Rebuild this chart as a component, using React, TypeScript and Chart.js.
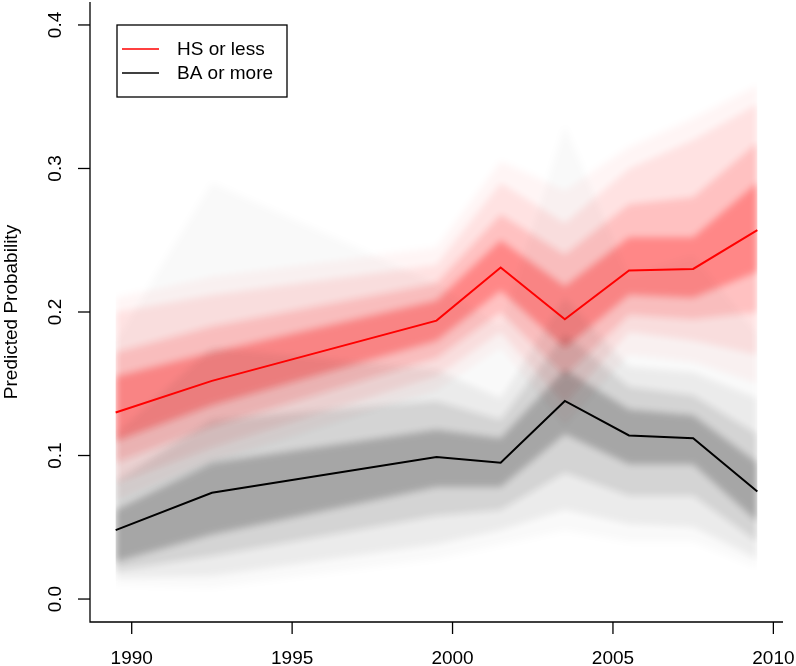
import React, { useEffect, useRef } from "react";
import { Chart, registerables } from "chart.js";

Chart.register(...registerables);

// Survey years (plotted positions)
const years = [1989.5, 1992.5, 1999.5, 2001.5, 2003.5, 2005.5, 2007.5, 2009.5];

// Point estimates
const hsMean = [0.130, 0.152, 0.194, 0.231, 0.195, 0.229, 0.230, 0.257];
const baMean = [0.048, 0.074, 0.099, 0.095, 0.138, 0.114, 0.112, 0.075];

// Simulation cloud bands – HS or less (red)
const hsCoreLo = [0.110, 0.135, 0.180, 0.215, 0.175, 0.212, 0.210, 0.228];
const hsCoreHi = [0.155, 0.172, 0.208, 0.250, 0.218, 0.252, 0.252, 0.290];
const hsMidLo = [0.095, 0.120, 0.168, 0.200, 0.155, 0.198, 0.195, 0.200];
const hsMidHi = [0.172, 0.190, 0.220, 0.268, 0.240, 0.275, 0.280, 0.318];
const hsOutLo = [0.080, 0.105, 0.155, 0.186, 0.135, 0.186, 0.180, 0.170];
const hsOutHi = [0.200, 0.212, 0.233, 0.290, 0.262, 0.300, 0.320, 0.345];
const hsExtLo = [0.068, 0.095, 0.145, 0.175, 0.120, 0.170, 0.165, 0.150];
const hsExtHi = [0.210, 0.225, 0.245, 0.305, 0.285, 0.315, 0.335, 0.358];

// Simulation cloud bands – BA or more (black)
const baCoreLo = [0.026, 0.045, 0.078, 0.078, 0.115, 0.094, 0.094, 0.054];
const baCoreHi = [0.062, 0.095, 0.118, 0.112, 0.160, 0.132, 0.128, 0.095];
const baMidLo = [0.020, 0.030, 0.058, 0.062, 0.088, 0.072, 0.072, 0.040];
const baMidHi = [0.082, 0.125, 0.138, 0.125, 0.185, 0.148, 0.142, 0.115];
const baOutLo = [0.015, 0.016, 0.038, 0.048, 0.062, 0.052, 0.050, 0.028];
const baOutHi = [0.115, 0.175, 0.160, 0.140, 0.210, 0.162, 0.158, 0.140];
const baExtLo = [0.010, 0.008, 0.028, 0.038, 0.048, 0.040, 0.040, 0.022];
const baExtHi = [0.180, 0.290, 0.220, 0.190, 0.330, 0.225, 0.240, 0.185];

// Axis ticks
const xTicks = [1990, 1995, 2000, 2005, 2010];
const yTicks = [0.0, 0.1, 0.2, 0.3, 0.4];
const yTickLabels = ["0.0", "0.1", "0.2", "0.3", "0.4"];

const seriesNames = ["HS or less", "BA or more"];
const yTitle = "Predicted Probability";

const FONT = "19px 'Liberation Sans', Arial, Helvetica, sans-serif";

const pts = (arr: number[]) => years.map((x, i) => ({ x, y: arr[i] }));

function band(lo: number[], hi: number[], color: string) {
  return [
    { data: pts(lo), borderWidth: 0, pointRadius: 0, fill: false, borderColor: "rgba(0,0,0,0)" },
    { data: pts(hi), borderWidth: 0, pointRadius: 0, fill: "-1", backgroundColor: color, borderColor: "rgba(0,0,0,0)" },
  ];
}

// soften the simulation cloud, keep the estimate lines crisp
const softPlugin = {
  id: "soft",
  beforeDatasetsDraw(chart: any) {
    chart.ctx.filter = "blur(3.5px)";
  },
  beforeDatasetDraw(chart: any, args: any) {
    if (args.index <= 1) chart.ctx.filter = "none";
  },
  afterDatasetsDraw(chart: any) {
    chart.ctx.filter = "none";
  },
};

const axesPlugin = {
  id: "rAxes",
  afterDraw(chart: any) {
    const { ctx, chartArea: a, scales } = chart;
    const x = scales.x;
    const y = scales.y;
    ctx.save();
    ctx.filter = "none";
    ctx.strokeStyle = "#000";
    ctx.fillStyle = "#000";
    ctx.lineWidth = 1.3;
    ctx.beginPath();
    ctx.moveTo(a.left, a.top);
    ctx.lineTo(a.left, a.bottom);
    ctx.lineTo(a.right, a.bottom);
    ctx.stroke();

    ctx.font = FONT;
    ctx.textAlign = "center";
    ctx.textBaseline = "middle";
    xTicks.forEach((t) => {
      const px = x.getPixelForValue(t);
      ctx.beginPath();
      ctx.moveTo(px, a.bottom);
      ctx.lineTo(px, a.bottom + 12);
      ctx.stroke();
      ctx.fillText(String(t), px, a.bottom + 37);
    });
    yTicks.forEach((t, i) => {
      const py = y.getPixelForValue(t);
      ctx.beginPath();
      ctx.moveTo(a.left, py);
      ctx.lineTo(a.left - 12, py);
      ctx.stroke();
      ctx.save();
      ctx.translate(a.left - 34, py);
      ctx.rotate(-Math.PI / 2);
      ctx.fillText(yTickLabels[i], 0, 0);
      ctx.restore();
    });
    // y title
    ctx.save();
    ctx.translate(12, (a.top + a.bottom) / 2);
    ctx.rotate(-Math.PI / 2);
    ctx.fillText(yTitle, 0, 0);
    ctx.restore();

    // legend
    const lx = a.left + 27;
    const ly = a.top + 23;
    ctx.fillStyle = "#fff";
    ctx.fillRect(lx, ly, 170, 72);
    ctx.fillStyle = "#000";
    ctx.lineWidth = 1.3;
    ctx.strokeRect(lx, ly, 170, 72);
    const cols = ["#ff0000", "#000000"];
    ctx.textAlign = "left";
    seriesNames.forEach((name, i) => {
      const yy = ly + 24 + i * 24;
      ctx.strokeStyle = cols[i];
      ctx.lineWidth = 1.5;
      ctx.beginPath();
      ctx.moveTo(lx + 5, yy);
      ctx.lineTo(lx + 42, yy);
      ctx.stroke();
      ctx.fillText(name, lx + 60, yy + 1);
    });
    ctx.restore();
  },
};

export default function App() {
  const ref = useRef<HTMLCanvasElement>(null);
  useEffect(() => {
    document.body.style.margin = "0";
    const canvas = ref.current!;
    const datasets: any[] = [
      { data: pts(hsMean), borderColor: "#ff0000", borderWidth: 2, pointRadius: 0, fill: false },
      { data: pts(baMean), borderColor: "#000000", borderWidth: 2, pointRadius: 0, fill: false },
      ...band(baCoreLo, baCoreHi, "rgba(0,0,0,0.22)"),
      ...band(baMidLo, baMidHi, "rgba(0,0,0,0.10)"),
      ...band(baOutLo, baOutHi, "rgba(0,0,0,0.06)"),
      ...band(baExtLo, baExtHi, "rgba(0,0,0,0.025)"),
      ...band(hsCoreLo, hsCoreHi, "rgba(255,0,0,0.30)"),
      ...band(hsMidLo, hsMidHi, "rgba(255,0,0,0.15)"),
      ...band(hsOutLo, hsOutHi, "rgba(255,0,0,0.08)"),
      ...band(hsExtLo, hsExtHi, "rgba(255,0,0,0.04)"),
    ];
    const chart = new Chart(canvas, {
      type: "line",
      data: { datasets },
      options: {
        animation: false,
        responsive: false,
        devicePixelRatio: 1,
        layout: { padding: { left: 90, right: 13, top: 2, bottom: 44 } },
        scales: {
          x: { type: "linear", min: 1988.7, max: 2010.3, display: false },
          y: { type: "linear", min: -0.016, max: 0.416, display: false },
        },
        plugins: {
          legend: { display: false },
          tooltip: { enabled: false },
          filler: { propagate: false },
        },
        elements: { line: { tension: 0 } },
      },
      plugins: [softPlugin, axesPlugin],
    });
    return () => chart.destroy();
  }, []);
  return <canvas ref={ref} width={796} height={666} style={{ display: "block" }} />;
}
